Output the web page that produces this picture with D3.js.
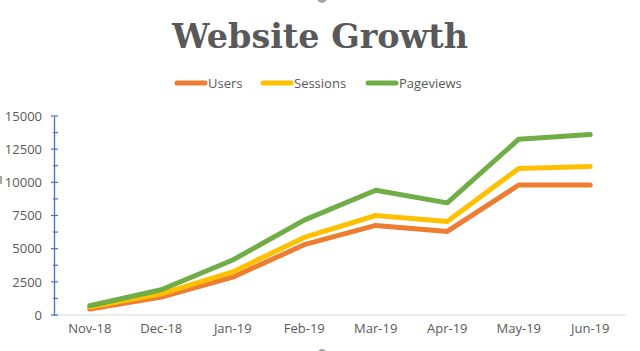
<!DOCTYPE html>
<html>
<head>
<meta charset="utf-8">
<script src="https://cdn.jsdelivr.net/npm/d3@7"></script>
<style>
  body { margin: 0; background: #fff; }
  svg { display: block; }
</style>
</head>
<body>
<div id="chart"></div>
<script>
// months along the x axis
var months = ["Nov-18", "Dec-18", "Jan-19", "Feb-19", "Mar-19", "Apr-19", "May-19", "Jun-19"];
// series values
var users = [450, 1350, 2850, 5300, 6750, 6300, 9800, 9800];
var sessions = [600, 1600, 3250, 5850, 7500, 7050, 11050, 11200];
var pageviews = [700, 1900, 4150, 7150, 9400, 8450, 13250, 13600];
var seriesNames = ["Users", "Sessions", "Pageviews"];
var yTicks = [0, 2500, 5000, 7500, 10000, 12500, 15000];

function init() {
    var w = 640, h = 351;
    var left = 54, right = 626, top = 116, bottom = 315;

    var svg = d3.select("#chart").append("svg")
        .attr("width", w)
        .attr("height", h);

    var colors = d3.scaleOrdinal()
        .domain(seriesNames)
        .range(["#ED7D31", "#FFC000", "#70AD47"]);

    var xScale = d3.scaleBand()
        .domain(months)
        .range([left, right]);

    var yScale = d3.scaleLinear()
        .domain([0, 15000])
        .range([bottom, top]);

    // little selection handles left over from the screenshot
    svg.append("circle").attr("cx", 322).attr("cy", -2).attr("r", 5).attr("fill", "#a6a6a6");
    svg.append("circle").attr("cx", 322).attr("cy", 354).attr("r", 5).attr("fill", "#a6a6a6");
    svg.append("rect").attr("x", 0).attr("y", 176).attr("width", 2).attr("height", 8).attr("fill", "#a6a6a6");

    // title
    svg.append("text")
        .attr("x", 320)
        .attr("y", 48)
        .attr("text-anchor", "middle")
        .attr("font-family", "'DejaVu Serif', serif")
        .attr("font-weight", "bold")
        .attr("font-size", 34)
        .attr("fill", "#595959")
        .attr("textLength", 296)
        .attr("lengthAdjust", "spacingAndGlyphs")
        .text("Website Growth");

    // legend
    var legendX = [176, 262, 367];
    var legend = svg.selectAll(".legend")
        .data(seriesNames)
        .enter().append("g")
        .attr("transform", function(d, i) { return "translate(" + legendX[i] + ",83)"; });
    legend.append("line")
        .attr("x1", 1).attr("x2", 29)
        .attr("stroke", function(d) { return colors(d); })
        .attr("stroke-width", 5)
        .attr("stroke-linecap", "round");
    legend.append("text")
        .attr("x", 32)
        .attr("y", 5)
        .attr("font-family", "'Open Sans', sans-serif")
        .attr("font-size", 13)
        .attr("fill", "#595959")
        .text(function(d) { return d; });

    // x baseline + labels
    svg.append("line")
        .attr("x1", left).attr("x2", right)
        .attr("y1", bottom).attr("y2", bottom)
        .attr("stroke", "#d9d9d9").attr("stroke-width", 1);

    var xAxis = svg.append("g")
        .attr("transform", "translate(0," + bottom + ")")
        .call(d3.axisBottom(xScale).tickSize(0).tickPadding(9));
    xAxis.select(".domain").remove();
    xAxis.selectAll("text")
        .attr("font-family", "'Open Sans', sans-serif")
        .attr("font-size", 13)
        .attr("fill", "#595959");

    // y axis, blue with minor ticks between the labelled ones
    var yAxis = svg.append("g")
        .attr("transform", "translate(" + left + ",0)")
        .call(d3.axisLeft(yScale).tickValues(yTicks).tickFormat(d3.format("d")).tickSize(0).tickPadding(12));
    yAxis.select(".domain").attr("stroke", "#4472C4").attr("stroke-width", 1.3);
    yAxis.selectAll("text")
        .attr("font-family", "'Open Sans', sans-serif")
        .attr("font-size", 13)
        .attr("fill", "#595959");

    var allTicks = d3.range(0, 15001, 1250);
    svg.append("g").selectAll("line")
        .data(allTicks)
        .enter().append("line")
        .attr("x1", function(d) { return d % 2500 === 0 ? left - 3 : left - 1; })
        .attr("x2", left + 4)
        .attr("y1", function(d) { return yScale(d); })
        .attr("y2", function(d) { return yScale(d); })
        .attr("stroke", "#4472C4")
        .attr("stroke-width", 1.2);

    // lines
    var data = [users, sessions, pageviews];
    var line = d3.line()
        .x(function(d, i) { return xScale(months[i]) + xScale.bandwidth() / 2; })
        .y(function(d) { return yScale(d); });

    svg.append("g").selectAll("path")
        .data(data)
        .enter().append("path")
        .attr("d", line)
        .attr("fill", "none")
        .attr("stroke", function(d, i) { return colors(seriesNames[i]); })
        .attr("stroke-width", 5)
        .attr("stroke-linecap", "round")
        .attr("stroke-linejoin", "round");
}

window.onload = init;
</script>
</body>
</html>
